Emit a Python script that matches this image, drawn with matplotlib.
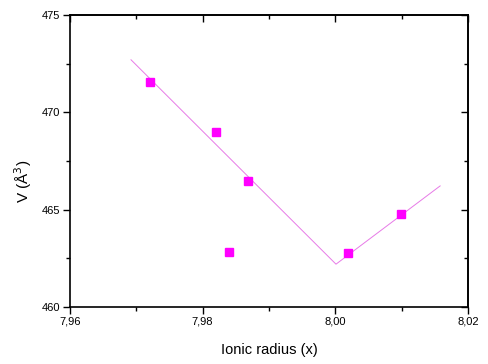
import matplotlib.pyplot as plt

plt.rcParams['font.family'] = ['Liberation Sans', 'DejaVu Sans']

# measured points
radius = [7.972, 7.982, 7.9868, 7.984, 8.0019, 8.0099]
volume = [471.55, 469.0, 466.47, 462.85, 462.78, 464.78]

# fitted V-shaped guide line (start, vertex, end)
fit_x = [7.9692, 8.0001, 8.0158]
fit_y = [472.7, 462.2, 466.22]

xticks = [7.96, 7.98, 8.00, 8.02]
xtick_labels = ['7,96', '7,98', '8,00', '8,02']
yticks = [460, 465, 470, 475]
ytick_labels = ['460', '465', '470', '475']

fig = plt.figure(figsize=(4.88, 3.64), dpi=100)
ax = fig.add_axes([0.1434, 0.1566, 0.8156, 0.8022])

ax.plot(fit_x, fit_y, color='#e77ae7', lw=0.7)
ax.plot(radius, volume, ls='none', marker='s', ms=5.5, color='#ff00ff', mec='#ff00ff')

ax.set_xlim(7.96, 8.02)
ax.set_ylim(460, 475)
ax.set_xticks(xticks)
ax.set_xticklabels(xtick_labels)
ax.set_xticks([7.97, 7.99, 8.01], minor=True)
ax.set_yticks(yticks)
ax.set_yticklabels(ytick_labels)
ax.set_yticks([462.5, 467.5, 472.5], minor=True)
ax.tick_params(which='major', direction='out', length=5, width=1, labelsize=8, pad=2)
ax.tick_params(which='minor', direction='out', length=3, width=1)

for s in ax.spines.values():
    s.set_linewidth(1.2)

# mirrored ticks on top and right, pointing inward
top = ax.secondary_xaxis('top')
top.set_xticks(xticks)
top.set_xticks([7.97, 7.99, 8.01], minor=True)
top.tick_params(which='major', direction='in', length=5, width=1, labeltop=False)
top.tick_params(which='minor', direction='in', length=3, width=1)
top.spines['top'].set_linewidth(1.2)
right = ax.secondary_yaxis('right')
right.set_yticks(yticks)
right.set_yticks([462.5, 467.5, 472.5], minor=True)
right.tick_params(which='major', direction='in', length=5, width=1, labelright=False)
right.tick_params(which='minor', direction='in', length=3, width=1)
right.spines['right'].set_linewidth(1.2)

ax.set_xlabel('Ionic radius (x)', fontsize=10.5)
ax.xaxis.set_label_coords(0.5, -0.125)
ax.set_ylabel('V (Å$^3$)', fontsize=11)
ax.yaxis.set_label_coords(-0.09, 0.43)

plt.savefig('out.png', dpi=100)
